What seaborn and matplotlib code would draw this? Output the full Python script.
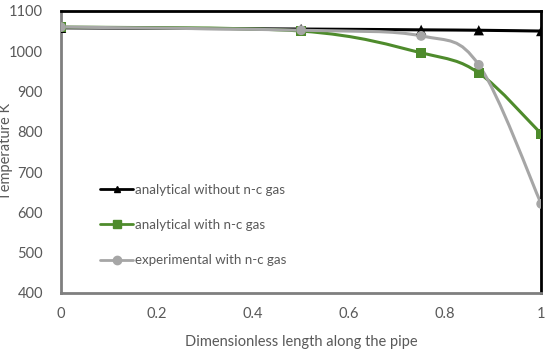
import numpy as np
import pandas as pd
import matplotlib
matplotlib.use("Agg")
import matplotlib.pyplot as plt
import seaborn as sns
from matplotlib.path import Path
from matplotlib.patches import PathPatch
from matplotlib.lines import Line2D

x_pos = [0, 0.5, 0.75, 0.87, 1]
without_gas = [1058, 1055, 1053, 1052, 1050]
with_gas = [1060, 1050, 996, 946, 795]
experimental = [1060, 1052, 1038, 966, 621]

series = ["analytical without n-c gas", "analytical with n-c gas", "experimental with n-c gas"]
colors = ["#000000", "#4E8B2C", "#A6A6A6"]
markers = ["^", "s", "o"]

df = pd.DataFrame({
    "x": x_pos * 3,
    "T": without_gas + with_gas + experimental,
    "series": [s for s in series for _ in x_pos],
})

sns.set_style("white")
plt.rcParams["font.family"] = ["Lato", "DejaVu Sans"]
txt = "#595959"

fig, ax = plt.subplots(figsize=(5.5, 3.52), dpi=100)
fig.subplots_adjust(left=0.111, right=0.984, top=0.969, bottom=0.168)


def smooth_path(xs, ys):
    # excel-style smoothed line: cubic bezier through the points
    pts = np.column_stack([xs, ys]).astype(float)
    n = len(pts)
    verts = [pts[0]]
    codes = [Path.MOVETO]
    for i in range(n - 1):
        p0 = pts[i - 1] if i > 0 else pts[i]
        p1, p2 = pts[i], pts[i + 1]
        p3 = pts[i + 2] if i + 2 < n else pts[i + 1]
        c1 = p1 + (p2 - p0) / 6
        c2 = p2 - (p3 - p1) / 6
        verts += [c1, c2, p2]
        codes += [Path.CURVE4] * 3
    return Path(verts, codes)


order = [1, 2, 0]
for k in order:
    sub = df[df["series"] == series[k]]
    patch = PathPatch(smooth_path(sub["x"], sub["T"]), facecolor="none",
                      edgecolor=colors[k], lw=2.2, transform=ax.transData, zorder=2 + k * 0.1)
    ax.add_patch(patch)
    sns.scatterplot(data=sub, x="x", y="T", marker=markers[k], color=colors[k],
                    s=55 if k != 2 else 50, edgecolor="none", ax=ax, zorder=3 + k * 0.1,
                    legend=False)

ax.set_xlim(0, 1)
ax.set_ylim(400, 1100)
ax.set_xticks([0, 0.2, 0.4, 0.6, 0.8, 1])
ax.set_xticklabels(["0", "0.2", "0.4", "0.6", "0.8", "1"])
ax.set_yticks(range(400, 1101, 100))
ax.tick_params(colors=txt, labelsize=10.5, length=0)
ax.tick_params(axis="y", pad=13)
ax.tick_params(axis="x", pad=10)
ax.set_xlabel("Dimensionless length along the pipe", color=txt, fontsize=10.5, labelpad=10)
ax.set_ylabel("Temperature K", color=txt, fontsize=10.5)
ax.yaxis.set_label_coords(-0.1, 0.5)

for side in ["top", "right"]:
    ax.spines[side].set_color("black")
    ax.spines[side].set_linewidth(2)
for side in ["left", "bottom"]:
    ax.spines[side].set_color("#7F7F7F")
    ax.spines[side].set_linewidth(2)

handles = [Line2D([], [], color=colors[k], marker=markers[k], markersize=6 if k else 5,
                  lw=2, markeredgecolor=colors[k]) for k in range(3)]
leg = ax.legend(handles, series, loc="lower left", bbox_to_anchor=(0.07, 0.075),
                frameon=False, fontsize=9.6, labelspacing=1.75, handlelength=2.5,
                handletextpad=0.1, borderaxespad=0)
for t in leg.get_texts():
    t.set_color(txt)

fig.savefig("out.png", dpi=100)
